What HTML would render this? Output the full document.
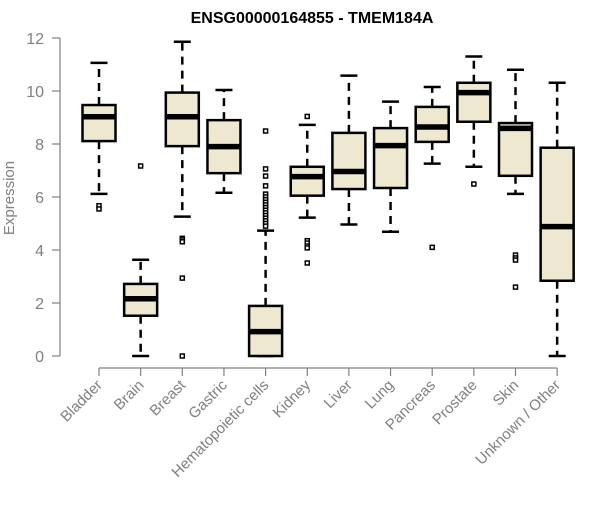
<!DOCTYPE html>
<html><head><meta charset="utf-8"><style>
body{margin:0;background:#fff}
svg text{font-family:"Liberation Sans",sans-serif}
</style></head><body>
<svg id="c" width="600" height="500">
<text x="312" y="23" text-anchor="middle" font-weight="bold" font-size="16" fill="#000">ENSG00000164855 - TMEM184A</text>
</svg>
<script>
const categories=["Bladder","Brain","Breast","Gastric","Hematopoietic cells","Kidney","Liver","Lung","Pancreas","Prostate","Skin","Unknown / Other"];
const lowWhisker=[6.12,0,5.26,6.16,0,5.22,4.96,4.69,7.26,7.14,6.12,0];
const q1=[8.11,1.52,7.92,6.9,0,6.05,6.3,6.34,8.08,8.84,6.8,2.84];
const medians=[9.03,2.16,9.03,7.9,0.92,6.77,6.96,7.94,8.64,9.94,8.59,4.88];
const q3=[9.47,2.72,9.94,8.9,1.89,7.14,8.42,8.6,9.4,10.31,8.79,7.86];
const highWhisker=[11.06,3.63,11.86,10.04,4.73,8.72,10.58,9.6,10.15,11.3,10.8,10.31];
const outliers=[[5.67,5.55],[7.17],[4.44,4.38,4.31,2.94,0],[],
[8.49,7.06,6.79,6.42,6.11,6.0,5.9,5.8,5.7,5.6,5.5,5.4,5.3,5.2,5.1,5.0,4.9],
[9.04,4.35,4.26,4.15,4.08,3.51],[],[],[4.1],[6.49],[3.81,3.7,3.62,2.6],[]];
const yTicks=[0,2,4,6,8,10,12];
const NS="http://www.w3.org/2000/svg";
const svg=document.getElementById('c');
const y=v=>356-v*26.5;
const x=i=>99+i*41.65;
function mk(t,a,p){const e=document.createElementNS(NS,t);for(const k in a)e.setAttribute(k,a[k]);(p||svg).appendChild(e);return e;}
const ya=mk('g',{});


mk('line',{x1:60,x2:60,y1:y(0),y2:y(12),stroke:'#808080','stroke-width':1.2},ya);
yTicks.forEach(t=>{
 mk('line',{x1:52,x2:60,y1:y(t),y2:y(t),stroke:'#808080','stroke-width':1.2},ya);
 const tx=mk('text',{x:44,y:y(t)+6,'text-anchor':'end','font-size':16,fill:'#808080'},ya);
 tx.textContent=t;
 
 
});
const yt=mk('text',{x:0,y:0,transform:'translate(14,198) rotate(-90)','text-anchor':'middle','font-size':15,fill:'#808080'});
yt.textContent='Expression';


const xa=mk('g',{});


mk('line',{x1:x(0),x2:x(11),y1:368,y2:368,stroke:'#808080','stroke-width':1.2},xa);
categories.forEach((c,i)=>{
 mk('line',{x1:x(i),x2:x(i),y1:368,y2:376,stroke:'#808080','stroke-width':1.2},xa);
 const tx=mk('text',{x:0,y:0,transform:`translate(${x(i)+4},${386}) rotate(-45)`,'text-anchor':'end','font-size':15,fill:'#808080'},xa);
 tx.textContent=c;
 
 
});
categories.forEach((c,i)=>{
 const g=mk('g',{});
 
 
 const cx=x(i);
 mk('line',{x1:cx,x2:cx,y1:y(q3[i]),y2:y(highWhisker[i]),stroke:'#000','stroke-width':2.5,'stroke-dasharray':'8,6'},g);
 mk('line',{x1:cx,x2:cx,y1:y(q1[i]),y2:y(lowWhisker[i]),stroke:'#000','stroke-width':2.5,'stroke-dasharray':'8,6'},g);
 mk('line',{x1:cx-8.5,x2:cx+8.5,y1:y(highWhisker[i]),y2:y(highWhisker[i]),stroke:'#000','stroke-width':2.5},g);
 mk('line',{x1:cx-8.5,x2:cx+8.5,y1:y(lowWhisker[i]),y2:y(lowWhisker[i]),stroke:'#000','stroke-width':2.5},g);
 mk('rect',{x:cx-16.5,y:y(q3[i]),width:33,height:y(q1[i])-y(q3[i]),fill:'#ede8cf',stroke:'#000','stroke-width':2.5},g);
 mk('line',{x1:cx-16.5,x2:cx+16.5,y1:y(medians[i]),y2:y(medians[i]),stroke:'#000','stroke-width':5.5},g);
 outliers[i].forEach(o=>{
  const r=mk('rect',{x:cx-2,y:y(o)-2,width:4,height:4,fill:'#fff',stroke:'#000','stroke-width':1.5},g);
  
  
 });
});
</script>
</body></html>
